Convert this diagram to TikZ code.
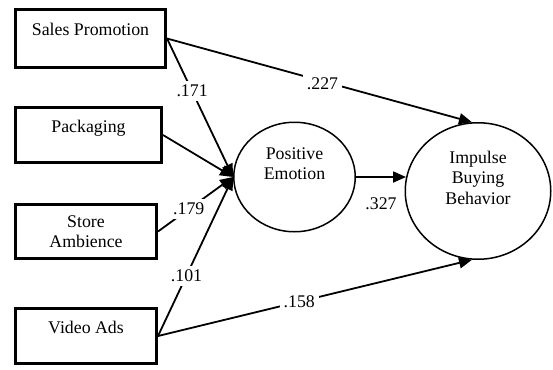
\documentclass[tikz,border=0pt]{standalone}
\usepackage{fontspec}
\setmainfont{Liberation Serif}
\usepackage{tikz}
\usetikzlibrary{arrows.meta}
\usetikzlibrary{shapes.geometric}

\begin{document}
\begin{tikzpicture}[x=1pt,y=-1pt,
    every node/.style={inner sep=1,font=\fontsize{17.8}{20.5}\selectfont},
    box/.style={draw,line width=2.8pt,inner sep=0},
    toptext/.style={text height=12pt,text depth=18pt},
    construct/.style={draw,ellipse,line width=1.5pt,inner sep=0,align=center},
    val/.style={fill=white,inner sep=4},
    >={Triangle[length=13pt,width=11pt]}]
	\useasboundingbox (0,0) rectangle (553,369);
	% predictors
	\node (sp) [box,toptext,minimum width=150.2pt,minimum height=58.2pt] at (90.5,38.5) {Sales Promotion};
	\node (pk) [box,toptext,minimum width=146.2pt,minimum height=55.2pt] at (88.5,135) {Packaging};
	\node (sa) [box,align=center,minimum width=141.2pt,minimum height=54.2pt] at (86,231.5) {Store\\Ambience};
	\node (va) [box,toptext,minimum width=141.2pt,minimum height=55.2pt] at (86,336) {Video Ads};
	% mediator and outcome
	\node (pe) [construct,minimum width=121.5pt,minimum height=109.5pt] at (294.5,177) {Positive\\Emotion\\\strut};
	\node (ibb) [construct,minimum width=145.5pt,minimum height=136.5pt] at (478,191) {Impulse\\Buying\\Behavior\\\strut};
    \path[->,line width=1.8pt]
        (sp.east) edge node[val,pos=0.38] {.171} (pe.west)
        (sp.east) edge node[val,pos=0.51,yshift=-3pt] {.227} (ibb.95)
        (pk.east) edge (pe.west)
        (sa.east) edge node[val,pos=0.41] {.179} (pe.west)
        (va.east) edge node[val,pos=0.38] {.101} (pe.west)
        (va.east) edge node[val,pos=0.45] {.158} (ibb.265)
        (pe.east) edge node[below=19pt] {.327} (ibb.169);
\end{tikzpicture}
\end{document}
